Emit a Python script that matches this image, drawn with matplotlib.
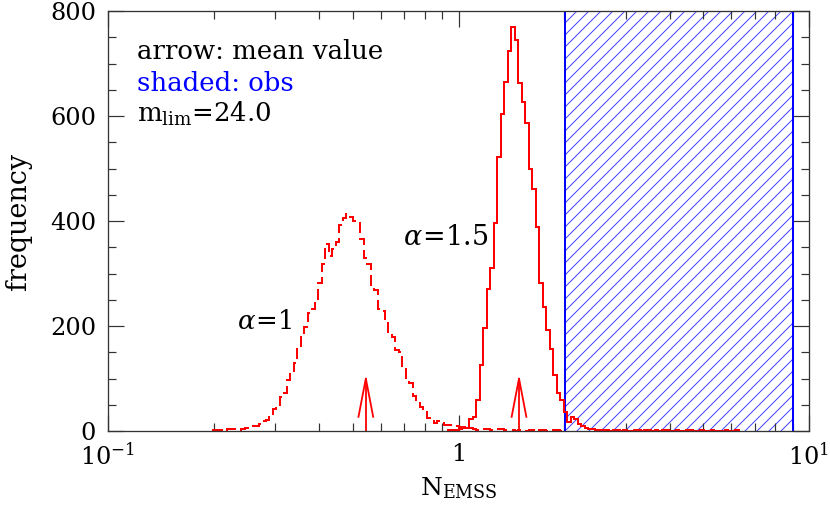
import numpy as np
import matplotlib
matplotlib.use("Agg")
import matplotlib.pyplot as plt
import matplotlib.transforms as mtrans
from matplotlib.ticker import MultipleLocator, FixedLocator, FixedFormatter, LogLocator, NullFormatter

# ---------------- data ----------------
bin_dlog = 0.01  # bin width in log10(N)

# alpha = 1 (dashed) histogram, first bin starts at log10(N) = -0.70
alpha1_log_start = -0.70
alpha1_counts = [
    1, 2, 1, 0, 3, 3, 4, 2, 3, 5,
    10, 10, 9, 14, 20, 21, 26, 41, 48, 65,
    72, 97, 108, 130, 158, 183, 198, 225, 232, 248,
    282, 318, 356, 333, 346, 360, 392, 406, 413, 408,
    400, 397, 365, 330, 318, 276, 268, 232, 228, 210,
    186, 180, 155, 150, 122, 96, 92, 66, 60, 45,
    40, 25, 24, 16, 20, 20, 11, 12, 10, 9,
    7, 8, 8, 5, 3, 2, 4, 4, 4, 2,
    3, 4, 4, 1, 2, 1, 0, 2, 1, 0,
    2, 1, 0, 2, 1, 0, 1, 2, 1, 0,
]

# alpha = 1.5 (solid) histogram, first bin starts at log10(N) = -0.03
alpha15_log_start = -0.03
alpha15_counts = [
    1, 2, 1, 4, 6, 5, 22, 27, 59, 126,
    196, 270, 310, 396, 522, 603, 665, 724, 770, 745,
    662, 626, 586, 499, 461, 389, 281, 237, 192, 157,
    107, 72, 59, 36, 18, 27, 22, 14, 10, 6,
    4, 3, 2, 2, 1, 1, 0, 1, 1, 0,
    1, 0, 0, 1, 1, 0, 1, 1, 0, 1,
    0, 1, 1, 0, 0, 1, 0, 0, 1, 1,
    0, 0, 1, 0, 0, 1, 0, 0, 0, 1,
    0, 0, 1,
]

mean_alpha1 = 0.544
mean_alpha15 = 1.488
arrow_top = 100
arrow_head_base = 27
arrow_head_dlog = 0.021

obs_range = (2.01, 9.0)

xtick_values = [0.1, 1, 10]
xtick_labels = [r"$10^{-1}$", "1", r"$10^{1}$"]
ytick_values = [0, 200, 400, 600, 800]

# ---------------- style ----------------
DPI = 72
plt.rcParams["font.family"] = ["DejaVu Serif"]
plt.rcParams["mathtext.fontset"] = "dejavuserif"
plt.rcParams["hatch.linewidth"] = 1.0
plt.rcParams["lines.scale_dashes"] = False

fig = plt.figure(figsize=(830 / DPI, 508 / DPI), dpi=DPI)
ax = fig.add_axes([108 / 830, 77 / 508, 701 / 830, 420 / 508])

ax.set_xscale("log")
ax.set_xlim(0.1, 10)
ax.set_ylim(0, 800)

# observed (shaded) region
ax.axvspan(obs_range[0], obs_range[1], facecolor="none", edgecolor="#4646ff",
           hatch="//", linewidth=0, zorder=1)
for xv in obs_range:
    ax.axvline(xv, color="blue", lw=2.0, zorder=2)

# histograms
edges1 = 10 ** (alpha1_log_start + bin_dlog * np.arange(len(alpha1_counts) + 1))
edges15 = 10 ** (alpha15_log_start + bin_dlog * np.arange(len(alpha15_counts) + 1))
ax.stairs(alpha1_counts, edges1, baseline=0, color="red", lw=2.0,
          linestyle=(0, (11, 5)), zorder=3)
ax.stairs(alpha15_counts, edges15, baseline=0, color="red", lw=2.0, zorder=3)

# mean arrows
for m in (mean_alpha1, mean_alpha15):
    ax.plot([m, m], [0, arrow_top], color="red", lw=1.8, zorder=4)
    ax.plot([m * 10 ** (-arrow_head_dlog), m, m * 10 ** arrow_head_dlog],
            [arrow_head_base, arrow_top, arrow_head_base], color="red", lw=1.8, zorder=4)

# ticks
ax.xaxis.set_major_locator(FixedLocator(xtick_values))
ax.xaxis.set_major_formatter(FixedFormatter(xtick_labels))
ax.xaxis.set_minor_locator(LogLocator(base=10, subs=np.arange(2, 10)))
ax.xaxis.set_minor_formatter(NullFormatter())
ax.yaxis.set_major_locator(FixedLocator(ytick_values))
ax.yaxis.set_minor_locator(MultipleLocator(50))

axis_col = "#333333"
ax.tick_params(which="both", direction="in", top=True, right=True,
               color=axis_col, width=1.2, labelsize=24, labelcolor="black")
ax.tick_params(which="major", length=16, pad=12)
ax.tick_params(which="minor", length=8)
for sp in ax.spines.values():
    sp.set_color(axis_col)
    sp.set_linewidth(1.3)
    sp.set_zorder(5)

# labels
ax.set_ylabel("frequency", fontsize=27, labelpad=18)
ax.set_xlabel(r"N$_{\rm EMSS}$", fontsize=25, labelpad=6)

# annotations
ax.text(0.042, 0.886, "arrow: mean value", transform=ax.transAxes, fontsize=26,
        color="black", va="baseline")
ax.text(0.042, 0.810, "shaded: obs", transform=ax.transAxes, fontsize=26,
        color="blue", va="baseline")
ax.text(0.042, 0.736, r"m$_{\rm lim}$=24.0", transform=ax.transAxes, fontsize=26,
        color="black", va="baseline")
blend = mtrans.blended_transform_factory(ax.transAxes, ax.transData)
ax.text(0.184, 208, r"$\alpha\!=\!1$", fontsize=26, va="center", ha="left", transform=blend)
ax.text(0.421, 368, r"$\alpha\!=\!1.5$", fontsize=27, va="center", ha="left", transform=blend)

fig.savefig("out.png", dpi=DPI)
